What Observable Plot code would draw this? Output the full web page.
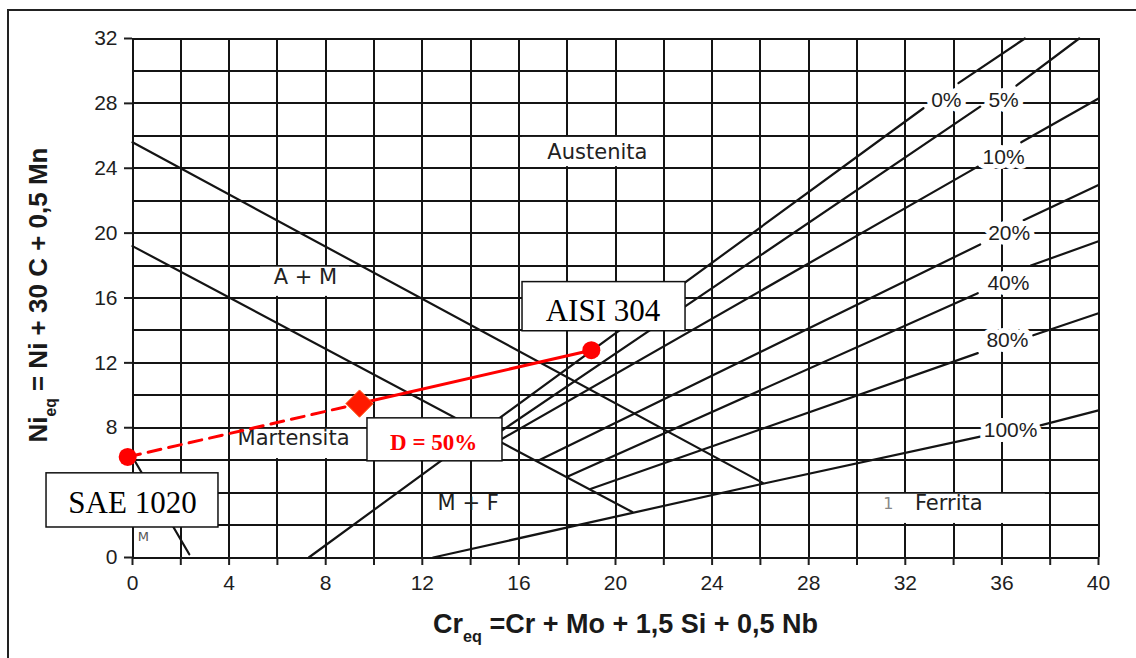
<!DOCTYPE html>
<html>
<head>
<meta charset="utf-8">
<script src="https://cdn.jsdelivr.net/npm/d3@7"></script>
<script src="https://cdn.jsdelivr.net/npm/@observablehq/plot@0.6"></script>
<style>
  html, body { margin: 0; padding: 0; background: #fff; overflow: hidden; }
  #chart { position: relative; width: 1136px; height: 658px; }
  #chart svg { display: block; }
  #border { position: absolute; left: 7px; top: 9px; width: 1200px; height: 700px;
            border-left: 2px solid #222; border-top: 2px solid #222; pointer-events: none; }
</style>
</head>
<body>
<div id="chart"><div id="border"></div></div>
<script>
// Axes: tick labels and grid spacing
const xTicks = [0, 4, 8, 12, 16, 20, 24, 28, 32, 36, 40];
const xGrid = [0, 2, 4, 6, 8, 10, 12, 14, 16, 18, 20, 22, 24, 26, 28, 30, 32, 34, 36, 38, 40];
const yTicks = [0, 4, 8, 12, 16, 20, 24, 28, 32];
const yGrid = [0, 2, 4, 6, 8, 10, 12, 14, 16, 18, 20, 22, 24, 26, 28, 30, 32];
const xTitle = "Creq =Cr + Mo + 1,5 Si + 0,5 Nb";
const yTitle = "Nieq = Ni + 30 C + 0,5 Mn";

// Phase boundaries of the Schaeffler diagram, [Cr_eq, Ni_eq] vertices
const austeniteLimit = [[0, 25.6], [26.1, 4.6]];
const martensiteLimit = [[0, 19.2], [20.7, 2.8]];
const martensiteCorner = [[0, 6.2], [2.35, 0.2]];
const ferrite0 = [[7.3, 0], [32.75, 27.7]];
const ferrite0Upper = [[34.2, 29.25], [36.95, 32]];
const ferrite5 = [[14.9, 7.43], [35.1, 27.8]];
const ferrite5Upper = [[36.6, 29.1], [39.2, 32]];
const ferrite10 = [[15.17, 7.2], [35.0, 24.1]];
const ferrite10Upper = [[36.8, 25.6], [40, 28.3]];
const ferrite20 = [[16.77, 5.95], [35.1, 19.3]];
const ferrite20Upper = [[36.9, 20.8], [40, 22.96]];
const ferrite40 = [[18.0, 4.98], [35.0, 16.3]];
const ferrite40Upper = [[37.2, 18.0], [40, 19.5]];
const ferrite80 = [[18.96, 4.22], [35.0, 12.6]];
const ferrite80Upper = [[37.3, 13.7], [40, 15.06]];
const ferrite100 = [[12.45, 0], [26.1, 4.55], [35.1, 7.45]];
const ferrite100Upper = [[37.6, 8.15], [40, 9.07]];

// Ferrite percentage labels
const ferriteLabels = ["0%", "5%", "10%", "20%", "40%", "80%", "100%"];
const ferriteLabelX = [33.7, 36.07, 36.07, 36.3, 36.27, 36.23, 36.36];
const ferriteLabelY = [28.2, 28.2, 24.69, 20.0, 16.9, 13.4, 7.84];

// Phase field names
const phaseLabels = ["Austenita", "A + M", "Martensita", "M + F", "Ferrita"];
const phaseX = [19.25, 7.16, 6.67, 13.9, 33.8];
const phaseY = [25.0, 17.28, 7.35, 3.33, 3.33];

// Steels: base metal and filler, plus the dilution
const steels = ["SAE 1020", "AISI 304"];
const steelCr = [-0.2, 19.0];
const steelNi = [6.2, 12.78];
const dilution = 0.5;

const ink = "#141414";

const segmentList = [
  austeniteLimit, martensiteLimit, martensiteCorner,
  ferrite0, ferrite0Upper, ferrite5, ferrite5Upper, ferrite10, ferrite10Upper,
  ferrite20, ferrite20Upper, ferrite40, ferrite40Upper, ferrite80, ferrite80Upper,
  ferrite100, ferrite100Upper
];
const segments = segmentList.flatMap((pts, id) => pts.map(([x, y]) => ({id, x, y})));

const ferriteTable = ferriteLabels.map((t, i) => ({t, x: ferriteLabelX[i], y: ferriteLabelY[i]}));
const phaseTable = phaseLabels.map((t, i) => ({t, x: phaseX[i], y: phaseY[i]}));

const base = {name: steels[0], x: steelCr[0], y: steelNi[0]};
const filler = {name: steels[1], x: steelCr[1], y: steelNi[1]};
const mix = {
  x: base.x + dilution * (filler.x - base.x),
  y: base.y + dilution * (filler.y - base.y)
};
const dilutionText = `D = ${Math.round(dilution * 100)}%`;

// White panels behind some field names (cells of the grid left blank)
const blankCells = [
  {x1: 16.15, x2: 21.85, y1: 24.1, y2: 25.9},
  {x1: 5.3, x2: 9.0, y1: 16.1, y2: 17.9},
  {x1: 4.1, x2: 9.9, y1: 6.1, y2: 7.9},
  {x1: 30.1, x2: 37.8, y1: 2.1, y2: 3.9}
];

// Callout boxes for the steels and the dilution
const callouts = [
  {text: steels[0], x1: -3.56, x2: 3.56, y1: 1.85, y2: 5.19, tx: 0, ty: 3.36},
  {text: steels[1], x1: 16.15, x2: 22.9, y1: 13.95, y2: 16.98, tx: 19.48, ty: 15.2}
];
const dilutionBox = {x1: 9.73, x2: 15.32, y1: 5.93, y2: 8.58, tx: 12.47, ty: 7.07};

const sans = "'Liberation Sans', Arial, Helvetica, sans-serif";
const fieldFont = "'DejaVu Sans', Verdana, sans-serif";
const serif = "'Liberation Serif', 'Times New Roman', serif";

const chart = Plot.plot({
  width: 1136,
  height: 658,
  marginLeft: 132,
  marginRight: 38,
  marginTop: 38,
  marginBottom: 101,
  x: {domain: [0, 40]},
  y: {domain: [0, 32]},
  style: {fontFamily: sans, color: "#1e1e1e", background: "transparent"},
  marks: [
    Plot.ruleX(xGrid, {stroke: ink, strokeWidth: 2, shapeRendering: "crispEdges"}),
    Plot.ruleY(yGrid, {stroke: ink, strokeWidth: 2, shapeRendering: "crispEdges"}),
    Plot.axisX(xGrid, {
      tickSize: 8, tickPadding: 10, strokeWidth: 2, fontSize: 21, label: null,
      tickFormat: d => xTicks.includes(d) ? String(d) : ""
    }),
    Plot.axisY(yTicks, {tickSize: 8, tickPadding: 7, strokeWidth: 2, fontSize: 21, label: null}),
    Plot.rect(blankCells, {x1: "x1", x2: "x2", y1: "y1", y2: "y2", fill: "white"}),
    Plot.line(segments, {x: "x", y: "y", z: "id", stroke: ink, strokeWidth: 2.2}),
    // field names
    Plot.text(phaseTable, {
      x: "x", y: "y", text: "t", fontSize: 21, fontFamily: fieldFont, fill: "#222"
    }),
    Plot.text(["M"], {x: 0.45, y: 1.25, text: d => d, fontSize: 13, fontFamily: fieldFont, fill: "#555"}),
    Plot.text(["1"], {x: 31.3, y: 3.33, text: d => d, fontSize: 16, fontFamily: fieldFont, fill: "#888"}),
    // ferrite percentage labels
    Plot.text(ferriteTable, {
      x: "x", y: "y", text: "t", fontSize: 21, fill: "#1e1e1e",
      stroke: "white", strokeWidth: 10, strokeLinejoin: "round"
    }),
    // dilution path from base metal to filler metal
    Plot.line([base, mix], {x: "x", y: "y", stroke: "#ff0000", strokeWidth: 3, strokeDasharray: "13,8"}),
    Plot.line([mix, filler], {x: "x", y: "y", stroke: "#ff0000", strokeWidth: 3}),
    Plot.dot([base, filler], {x: "x", y: "y", r: 9, fill: "#ff0000"}),
    Plot.dot([mix], {x: "x", y: "y", r: 12.3, symbol: "diamond2", fill: "#ff1a00", stroke: "#ff5a1a", strokeWidth: 1}),
    // callouts
    Plot.rect(callouts, {x1: "x1", x2: "x2", y1: "y1", y2: "y2", fill: "white", stroke: "#111", strokeWidth: 1.5}),
    Plot.text(callouts, {x: "tx", y: "ty", text: "text", fontSize: 31, fontFamily: serif, fill: "#000"}),
    Plot.rect([dilutionBox], {x1: "x1", x2: "x2", y1: "y1", y2: "y2", fill: "white", stroke: "#111", strokeWidth: 1.5}),
    Plot.text([dilutionBox], {x: "tx", y: "ty", text: () => dilutionText, fontSize: 23, fontWeight: "bold", fontFamily: serif, fill: "#ff0000"}),
    // axis titles
    Plot.text([xTitle], {
      frameAnchor: "bottom", lineAnchor: "middle", textAnchor: "middle", dx: 10, dy: 67,
      text: d => d, fontSize: 27, fontWeight: "bold", fill: "#1a1a1a"
    }),
    Plot.text([yTitle], {
      frameAnchor: "left", lineAnchor: "middle", textAnchor: "middle", dx: -94, dy: -3, rotate: -90,
      text: d => d, fontSize: 26, fontWeight: "bold", fill: "#1a1a1a"
    })
  ]
});

// Turn the "eq" of each axis title into a subscript
function subscript(svg, full, head, sub) {
  const ns = "http://www.w3.org/2000/svg";
  for (const t of svg.querySelectorAll("text")) {
    if (t.textContent !== full) continue;
    const rest = full.slice(head.length + sub.length);
    t.textContent = "";
    const a = document.createElementNS(ns, "tspan");
    a.textContent = head;
    const b = document.createElementNS(ns, "tspan");
    b.textContent = sub;
    b.setAttribute("font-size", "0.6em");
    b.setAttribute("dy", "9");
    const c = document.createElementNS(ns, "tspan");
    c.textContent = rest;
    c.setAttribute("dy", "-9");
    t.append(a, b, c);
  }
}
subscript(chart, xTitle, "Cr", "eq");
subscript(chart, yTitle, "Ni", "eq");

document.getElementById("chart").prepend(chart);
</script>
</body>
</html>
